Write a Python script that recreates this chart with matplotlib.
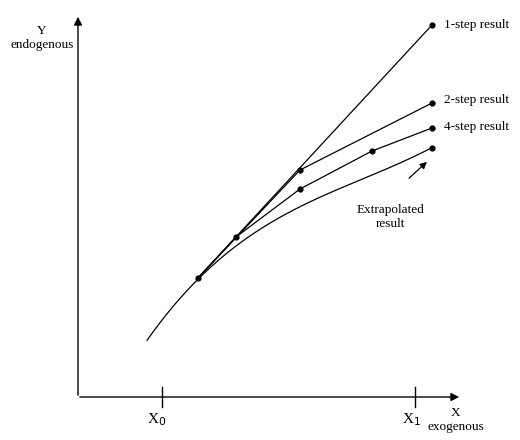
import matplotlib.pyplot as plt
import numpy as np
from numpy.polynomial import polynomial as P

# coordinates in picture units (x right, y down)
step1_x = [198, 432]
step1_y = [278, 25]
step2_x = [198, 300, 432]
step2_y = [278, 170, 103]
step4_x = [198, 236, 300, 372, 432]
step4_y = [278, 237, 189, 151, 128]
curve_x = [147, 170, 198, 240, 300, 372, 432]
curve_y = [342, 308, 278, 245, 207, 174, 148]
dots_x = [198, 236, 300, 300, 372, 432, 432, 432, 432]
dots_y = [278, 237, 170, 189, 151, 25, 103, 128, 148]
labels = ["1-step result", "2-step result", "4-step result"]
label_y = [25, 100, 127]

fig = plt.figure(figsize=(5.2, 4.4), dpi=100)
ax = fig.add_axes([0, 0, 1, 1])
ax.set_xlim(0, 520)
ax.set_ylim(440, 0)
ax.axis('off')

font = dict(family='Liberation Serif', fontsize=9.5)

# axes arrows
ax.annotate("", xy=(78, 14), xytext=(78, 398),
            arrowprops=dict(arrowstyle="-|>", lw=1, color='black', mutation_scale=12))
ax.annotate("", xy=(462, 397), xytext=(77, 397),
            arrowprops=dict(arrowstyle="-|>", lw=1, color='black', mutation_scale=12))
ax.plot([162, 162], [387, 407], color='black', lw=1)
ax.plot([415, 415], [387, 407], color='black', lw=1)

ax.plot(step1_x, step1_y, color='black', lw=0.9)
ax.plot(step2_x, step2_y, color='black', lw=0.9)
ax.plot(step4_x, step4_y, color='black', lw=0.9)
cx = np.linspace(curve_x[0], curve_x[-1], 200)
coef = P.polyfit(curve_x, curve_y, 3)
ax.plot(cx, P.polyval(cx, coef), color='black', lw=0.9)
ax.scatter(dots_x, dots_y, s=12, color='black', zorder=3)

for t, y in zip(labels, label_y):
    ax.text(444, y, t, ha='left', va='center', **font)

ax.annotate("", xy=(429, 160), xytext=(407, 180),
            arrowprops=dict(arrowstyle="-|>", lw=0.9, color='black', mutation_scale=10))
ax.text(390, 217, "Extrapolated\nresult", ha='center', va='center', linespacing=1.2, **font)

ax.text(42, 38, "Y\nendogenous", ha='center', va='center', linespacing=1.3, **font)
ax.text(456, 420, "X\nexogenous", ha='center', va='center', linespacing=1.3, **font)
ax.text(157, 420, "X$_0$", ha='center', va='center', family='Liberation Serif', fontsize=11)
ax.text(411, 420, "X$_1$", ha='center', va='center', family='Liberation Serif', fontsize=11)

fig.savefig("out.png", dpi=100)
